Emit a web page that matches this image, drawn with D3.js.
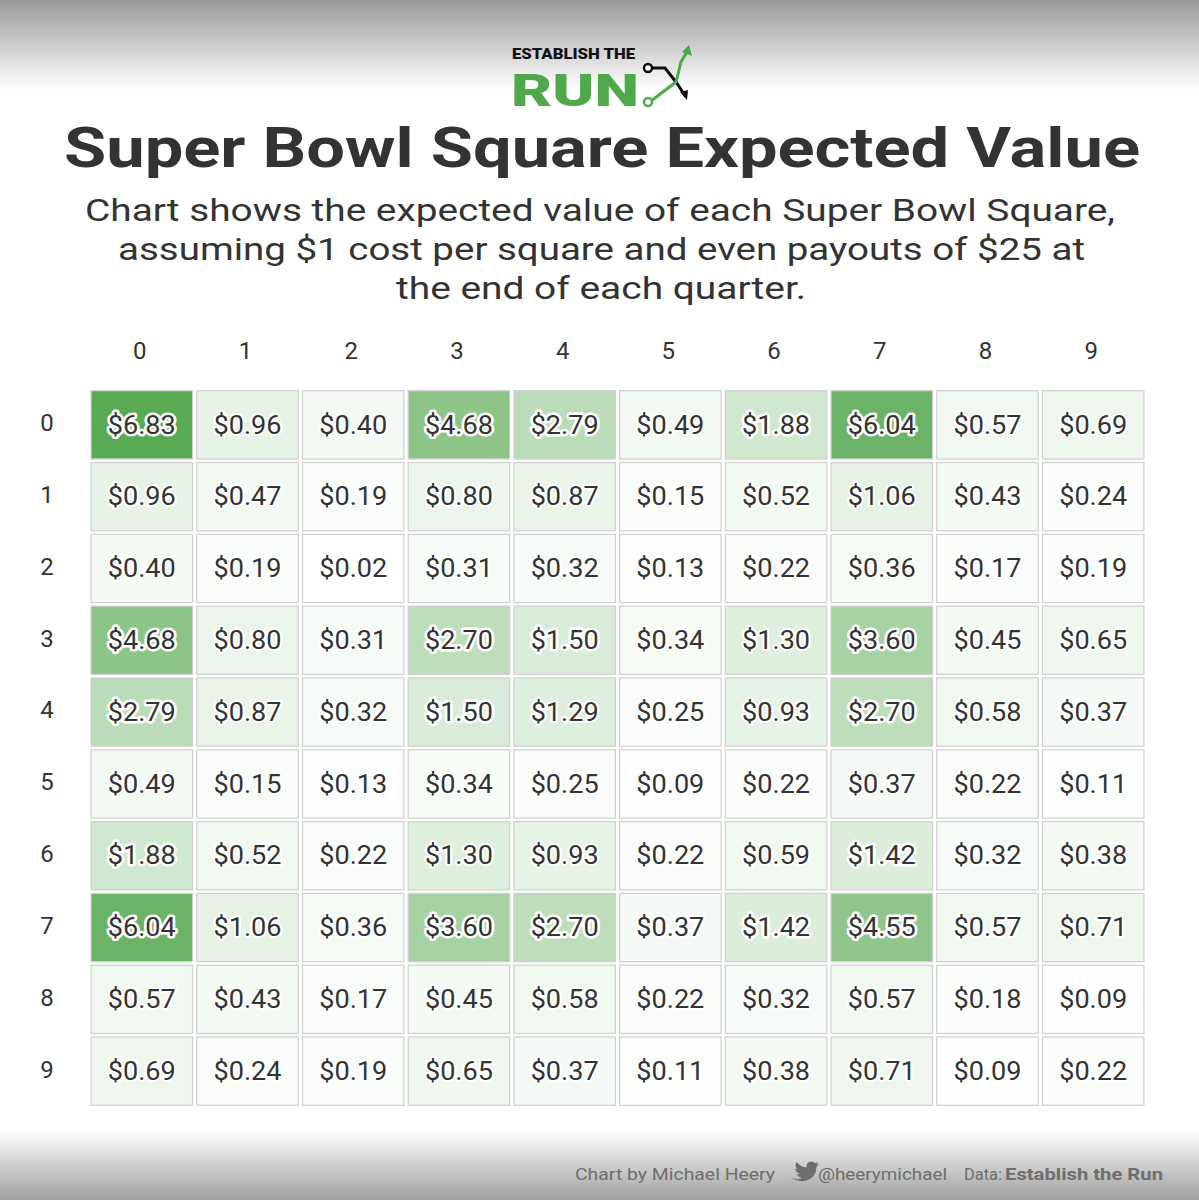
<!DOCTYPE html>
<html><head><meta charset="utf-8">
<script src="https://cdn.jsdelivr.net/npm/d3@7"></script>
<style>body{margin:0;background:#fff}svg{display:block}</style>
</head><body><svg id="c" width="1199" height="1200"></svg>
<script>
const digits = ["0","1","2","3","4","5","6","7","8","9"];
const values = [
[6.83,0.96,0.40,4.68,2.79,0.49,1.88,6.04,0.57,0.69],
[0.96,0.47,0.19,0.80,0.87,0.15,0.52,1.06,0.43,0.24],
[0.40,0.19,0.02,0.31,0.32,0.13,0.22,0.36,0.17,0.19],
[4.68,0.80,0.31,2.70,1.50,0.34,1.30,3.60,0.45,0.65],
[2.79,0.87,0.32,1.50,1.29,0.25,0.93,2.70,0.58,0.37],
[0.49,0.15,0.13,0.34,0.25,0.09,0.22,0.37,0.22,0.11],
[1.88,0.52,0.22,1.30,0.93,0.22,0.59,1.42,0.32,0.38],
[6.04,1.06,0.36,3.60,2.70,0.37,1.42,4.55,0.57,0.71],
[0.57,0.43,0.17,0.45,0.58,0.22,0.32,0.57,0.18,0.09],
[0.69,0.24,0.19,0.65,0.37,0.11,0.38,0.71,0.09,0.22]];
const svg = d3.select("#c");
const defs = svg.append("defs");
const gt = defs.append("linearGradient").attr("id","gt").attr("x1",0).attr("x2",0).attr("y1",0).attr("y2",1);
gt.append("stop").attr("offset","0").attr("stop-color","#9a9a9a");
gt.append("stop").attr("offset","1").attr("stop-color","#ffffff");
const gb = defs.append("linearGradient").attr("id","gb").attr("x1",0).attr("x2",0).attr("y1",0).attr("y2",1);
gb.append("stop").attr("offset","0").attr("stop-color","#ffffff");
gb.append("stop").attr("offset","1").attr("stop-color","#a0a0a0");
svg.append("rect").attr("width",1199).attr("height",1200).attr("fill","#fff");
svg.append("rect").attr("width",1199).attr("height",90).attr("fill","url(#gt)");
svg.append("rect").attr("y",1130).attr("width",1199).attr("height",70).attr("fill","url(#gb)");

const F = "Roboto, sans-serif";
const lg = svg.append("g");
lg.append("text").attr("x",512).attr("y",59).attr("font-family",F).attr("font-weight",900).attr("font-size",15).attr("fill","#111").attr("textLength",123).attr("lengthAdjust","spacingAndGlyphs").text("ESTABLISH THE");
lg.append("text").attr("x",511).attr("y",106).attr("font-family",F).attr("font-weight",900).attr("font-size",44).attr("fill","#4fa84a").attr("textLength",128).attr("lengthAdjust","spacingAndGlyphs").text("RUN");
lg.append("path").attr("d","M651 68 L665 68 L676 82 L686 97").attr("stroke","#111").attr("stroke-width",3).attr("fill","none");
lg.append("path").attr("d","M680 92 L687 100 L688 90 Z").attr("fill","#111");
lg.append("path").attr("d","M651 101 L676 82 L681 62 L688 50").attr("stroke","#4fa84a").attr("stroke-width",3).attr("fill","none");
lg.append("path").attr("d","M682 52 L689 45 L692 56 Z").attr("fill","#4fa84a");
lg.append("circle").attr("cx",648).attr("cy",68).attr("r",4).attr("fill","#fff").attr("stroke","#111").attr("stroke-width",2.5);
lg.append("circle").attr("cx",648).attr("cy",102).attr("r",4).attr("fill","#fff").attr("stroke","#4fa84a").attr("stroke-width",2.5);

svg.append("text").attr("x",64).attr("y",167).attr("font-family",F).attr("font-weight",700).attr("font-size",56).attr("fill","#333").attr("textLength",1076).attr("lengthAdjust","spacingAndGlyphs").text("Super Bowl Square Expected Value");
const sub = [["Chart shows the expected value of each Super Bowl Square,",85,1030],["assuming $1 cost per square and even payouts of $25 at",118,967],["the end of each quarter.",396,410]];
svg.append("g").selectAll("text").data(sub).join("text").attr("x",d=>d[1]).attr("y",(d,i)=>221+i*39).attr("font-family",F).attr("font-size",32).attr("fill","#333").attr("textLength",d=>d[2]).attr("lengthAdjust","spacingAndGlyphs").text(d=>d[0]);

const x = d3.scaleBand().domain(digits).range([90,1145]).paddingInner(0.04).paddingOuter(0.01);
const y = d3.scaleBand().domain(digits).range([390,1106]).paddingInner(0.05).paddingOuter(0.01);
const color = d3.scaleLinear().domain([0,6.83]).range(["#ffffff","#58aa53"]);

svg.append("g").selectAll("text").data(digits).join("text").attr("x",d=>x(d)+x.bandwidth()/2-2).attr("y",359).attr("text-anchor","middle").attr("font-family",F).attr("font-size",24).attr("fill","#333").text(d=>d);
svg.append("g").selectAll("text").data(digits).join("text").attr("x",47).attr("y",d=>y(d)+y.bandwidth()/2-2).attr("dy","0.35em").attr("text-anchor","middle").attr("font-family",F).attr("font-size",24).attr("fill","#333").text(d=>d);

const cells = [];
values.forEach((r,i)=>r.forEach((v,j)=>cells.push({r:digits[i],c:digits[j],v})));
const g = svg.append("g");
g.selectAll("rect").data(cells).join("rect").attr("x",d=>x(d.c)).attr("y",d=>y(d.r)).attr("width",x.bandwidth()).attr("height",y.bandwidth()).attr("fill",d=>color(d.v)).attr("stroke","#cfcfcf").attr("stroke-width",1.2);
g.selectAll("text").data(cells).join("text").attr("x",d=>x(d.c)+x.bandwidth()/2).attr("y",d=>y(d.r)+y.bandwidth()/2).attr("dy","0.35em").attr("text-anchor","middle").attr("font-family",F).attr("font-size",25).attr("fill","#333").attr("stroke","#fff").attr("stroke-width",d=>d.v>1.4?5:4).attr("stroke-linejoin","round").attr("paint-order","stroke").attr("textLength",68).attr("lengthAdjust","spacingAndGlyphs").text(d=>"$"+d.v.toFixed(2));

const foot = [["Chart by Michael Heery",575,200,400],["@heerymichael",818,129,400],["Data:",964,38,400],["Establish the Run",1005,158,700]];
svg.append("g").selectAll("text").data(foot).join("text").attr("x",d=>d[1]).attr("y",1180).attr("font-family",F).attr("font-size",17).attr("font-weight",d=>d[3]).attr("fill","#6e6e6e").attr("textLength",d=>d[2]).attr("lengthAdjust","spacingAndGlyphs").text(d=>d[0]);
svg.append("path").attr("d","M790 1177 q7 4 12 1 q-4 -1 -5 -4 q1.5 0 2.5 -0.5 q-4 -1 -4.5 -5 q1.5 1 2.5 1 q-3.5 -3.5 -1 -7.5 q4.5 5 10 5.5 q-0.5 -5 4.5 -6 q2.5 0 4 1.5 q2 0 3.5 -1 q-1 2 -2.5 3 q1.5 0 3 -1 q-1 1.8 -2.5 2.8 q0 11 -11 14 q-8 1.5 -15.5 -3.8z").attr("fill","#6e6e6e");
</script></body></html>
